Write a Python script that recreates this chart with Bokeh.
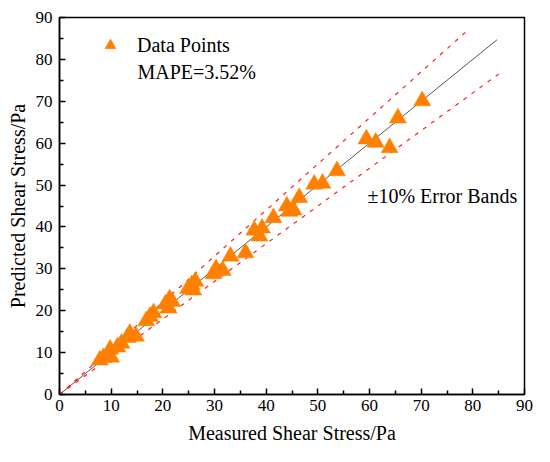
from bokeh.plotting import figure
from bokeh.models import Legend, LegendItem, Label, FixedTicker
from bokeh.embed import file_html
from bokeh.resources import INLINE

measured = [7.8, 8.5, 10.0, 9.8, 11.2, 12.0, 13.2, 13.6, 14.8, 16.8, 17.5, 18.2,
            20.5, 21.1, 21.3, 21.8, 24.9, 25.9, 25.6, 26.3, 29.8, 31.6, 30.3, 33.1,
            36.0, 37.7, 38.7, 39.2, 41.4, 44.0, 44.5, 45.3, 46.4, 49.3, 50.9, 53.7,
            59.4, 61.2, 63.9, 65.5, 70.2]
predicted = [8.2, 8.8, 8.9, 10.8, 11.3, 12.2, 13.6, 14.6, 13.9, 17.6, 18.6, 19.5,
             21.6, 20.6, 22.8, 22.2, 25.3, 24.9, 26.2, 27.0, 28.8, 29.6, 30.0, 33.0,
             33.8, 39.2, 37.8, 39.7, 42.2, 45.0, 43.7, 44.0, 47.0, 50.2, 50.4, 53.4,
             61.0, 60.2, 58.9, 66.0, 70.1]

ideal_x = [0, 84.7]
ideal_y = [0, 84.7]
upper_x = [0, 78.7]
upper_y = [0, 86.6]
lower_x = [0, 85.0]
lower_y = [0, 76.5]

ticks = list(range(0, 91, 10))
FONT = "Liberation Serif"

p = figure(width=534, height=446, x_range=(0, 90), y_range=(0, 90),
           output_backend="svg", toolbar_location=None,
           min_border_left=59, min_border_right=10, min_border_top=17, min_border_bottom=52)
p.grid.visible = False
p.outline_line_color = "black"
p.outline_line_width = 1.5

for ax in (p.xaxis, p.yaxis):
    ax.ticker = FixedTicker(ticks=ticks, minor_ticks=list(range(5, 90, 10)))
    ax.axis_line_width = 1.5
    ax.axis_line_color = "black"
    ax.major_tick_in = 6
    ax.major_tick_out = 0
    ax.minor_tick_in = 4
    ax.minor_tick_out = 0
    ax.major_tick_line_width = 1.5
    ax.minor_tick_line_width = 1.5
    ax.major_tick_line_color = "black"
    ax.minor_tick_line_color = "black"
    ax.major_label_text_font = FONT
    ax.major_label_text_font_size = "17px"
    ax.major_label_text_color = "black"
    ax.axis_label_text_font = FONT
    ax.axis_label_text_font_size = "20px"
    ax.axis_label_text_font_style = "normal"
    ax.axis_label_text_color = "black"

p.xaxis.axis_label = "Measured Shear Stress/Pa"
p.yaxis.axis_label = "Predicted Shear Stress/Pa"
p.xaxis.major_label_standoff = 5
p.yaxis.major_label_standoff = 7
p.xaxis.axis_label_standoff = 8
p.yaxis.axis_label_standoff = 4

p.line(ideal_x, ideal_y, line_color="#555555", line_width=1)
p.line(upper_x, upper_y, line_color="#FF2020", line_width=1.2, line_dash="4 6")
p.line(lower_x, lower_y, line_color="#FF2020", line_width=1.2, line_dash="4 6")

pts = p.scatter(measured, predicted, marker="triangle", size=17,
                fill_color="#FF8000", line_color="#FF8000", line_width=0.5)

legend = Legend(items=[LegendItem(label="Data Points", renderers=[pts])],
                location=(37, 335), padding=0, margin=0, spacing=0,
                glyph_width=28, glyph_height=28, label_standoff=13,
                label_text_font=FONT, label_text_font_size="20px",
                label_text_color="black",
                border_line_color=None, background_fill_alpha=0)
p.add_layout(legend)

p.add_layout(Label(x=15.1, y=77.1, text="MAPE=3.52%", text_font=FONT,
                   text_font_size="20px", text_baseline="middle", text_color="black"))
p.add_layout(Label(x=59.6, y=47.5, text="±10% Error Bands", text_font=FONT,
                   text_font_size="20px", text_baseline="middle", text_color="black"))

open("out.html", "w").write(file_html(p, INLINE))
